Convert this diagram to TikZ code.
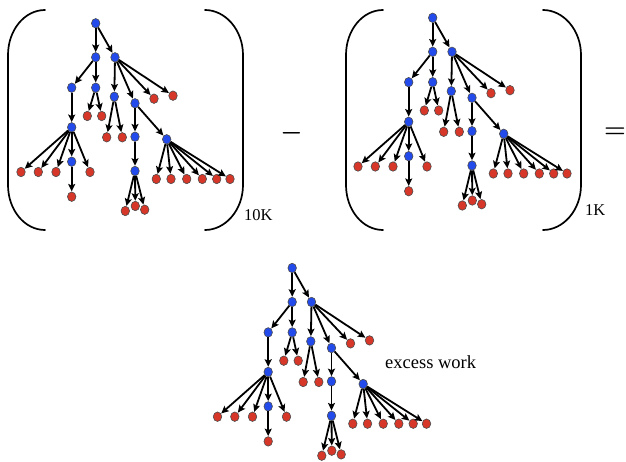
\documentclass[tikz,border=0pt]{standalone}
\usepackage{fontspec}
\setmainfont{Liberation Serif}
\usetikzlibrary{shapes.geometric,arrows.meta}
\definecolor{nblue}{RGB}{35,75,235}
\definecolor{nred}{RGB}{215,55,40}
\tikzset{
 bnode/.style={ellipse,draw=black!70,line width=0.6pt,fill=nblue,minimum width=8.5pt,minimum height=9.5pt,inner sep=0pt},
 rnode/.style={bnode,fill=nred},
 arr/.style={-{Stealth[length=7.5pt,width=7pt,inset=1.5pt]},line width=1.8pt,shorten >=0.2pt},
 paren/.style={line width=1.7pt,line cap=round},
 sublabel/.style={anchor=base west,inner sep=0pt,font=\fontsize{16.5}{16.5}\selectfont},
 oplabel/.style={inner sep=0pt,font=\fontsize{29}{29}\selectfont\boldmath},
}
\newcommand\drawtree[3]{%
\begin{scope}[shift={(#2,#3)}]
 \node[bnode] (#1r) at (95.7,23.3) {};
 \node[bnode] (#1a) at (95.7,57.3) {};
 \node[bnode] (#1b) at (115,57.3) {};
 \node[bnode] (#1c) at (71.7,87.7) {};
 \node[bnode] (#1d) at (95.7,87.7) {};
 \node[rnode] (#1d1) at (87.3,116) {};
 \node[rnode] (#1d2) at (101.7,116) {};
 \node[bnode] (#1e) at (71.7,127.3) {};
 \node[rnode] (#1e1) at (21,172) {};
 \node[rnode] (#1e2) at (38.3,172) {};
 \node[rnode] (#1e3) at (56,172) {};
 \node[bnode] (#1f) at (71.7,161.7) {};
 \node[rnode] (#1e5) at (90,172) {};
 \node[rnode] (#1f1) at (71.7,196.7) {};
 \node[bnode] (#1g) at (114.3,96.7) {};
 \node[bnode] (#1h) at (135,103.3) {};
 \node[rnode] (#1b3) at (154,98.7) {};
 \node[rnode] (#1b4) at (173,95.7) {};
 \node[rnode] (#1g1) at (106.7,137.3) {};
 \node[rnode] (#1g2) at (122.3,137.3) {};
 \node[bnode] (#1i) at (135,136.7) {};
 \node[bnode] (#1j) at (166.7,139.3) {};
 \node[bnode] (#1k) at (135,171) {};
 \node[rnode] (#1k1) at (125.3,211) {};
 \node[rnode] (#1k2) at (135.3,206) {};
 \node[rnode] (#1k3) at (144.7,209.7) {};
 \node[rnode] (#1j1) at (156.3,179) {};
 \node[rnode] (#1j2) at (171,179) {};
 \node[rnode] (#1j3) at (186.7,179) {};
 \node[rnode] (#1j4) at (202.3,179) {};
 \node[rnode] (#1j5) at (216.7,179) {};
 \node[rnode] (#1j6) at (230,179) {};
 \foreach \s/\t in {r/a,r/b,a/c,a/d,d/d1,d/d2,c/e,e/e1,e/e2,e/e3,e/f,e/e5,f/f1,
   b/g,b/h,b/b3,b/b4,g/g1,g/g2,h/i,h/j,i/k,k/k1,k/k2,k/k3,
   j/j1,j/j2,j/j3,j/j4,j/j5,j/j6}
   \draw[arr] (#1\s) -- (#1\t);
\end{scope}}
\newcommand\drawparens[1]{%
\begin{scope}[shift={(#1,0)}]
 \draw[paren] (45,10) .. controls (24.6,10) and (8,30) .. (8,55) -- (8,185) .. controls (8,210) and (24.6,230) .. (45,230);
 \draw[paren] (205,10) .. controls (225.4,10) and (243,30) .. (243,55) -- (243,185) .. controls (243,210) and (225.4,230) .. (205,230);
\end{scope}}
\begin{document}
\begin{tikzpicture}[x=1pt,y=-1pt]
\useasboundingbox (0,0) rectangle (626,462);
\drawparens{0}
\drawparens{338}
\drawtree{A}{0}{0}
\drawtree{B}{337}{-5.5}
\drawtree{C}{196.5}{244.7}
\node[sublabel] (s1) at (244,220.7) {10K};
\node[sublabel] (s2) at (585,215.5) {1K};
\node[oplabel] (minus) at (291.5,133) {$-$};
\node[oplabel] (eq) at (615,132.5) {$=$};
\node[anchor=base west,inner sep=0pt,font=\fontsize{18.5}{18.5}\selectfont] (ew) at (385,368.3) {excess work};
\end{tikzpicture}
\end{document}
